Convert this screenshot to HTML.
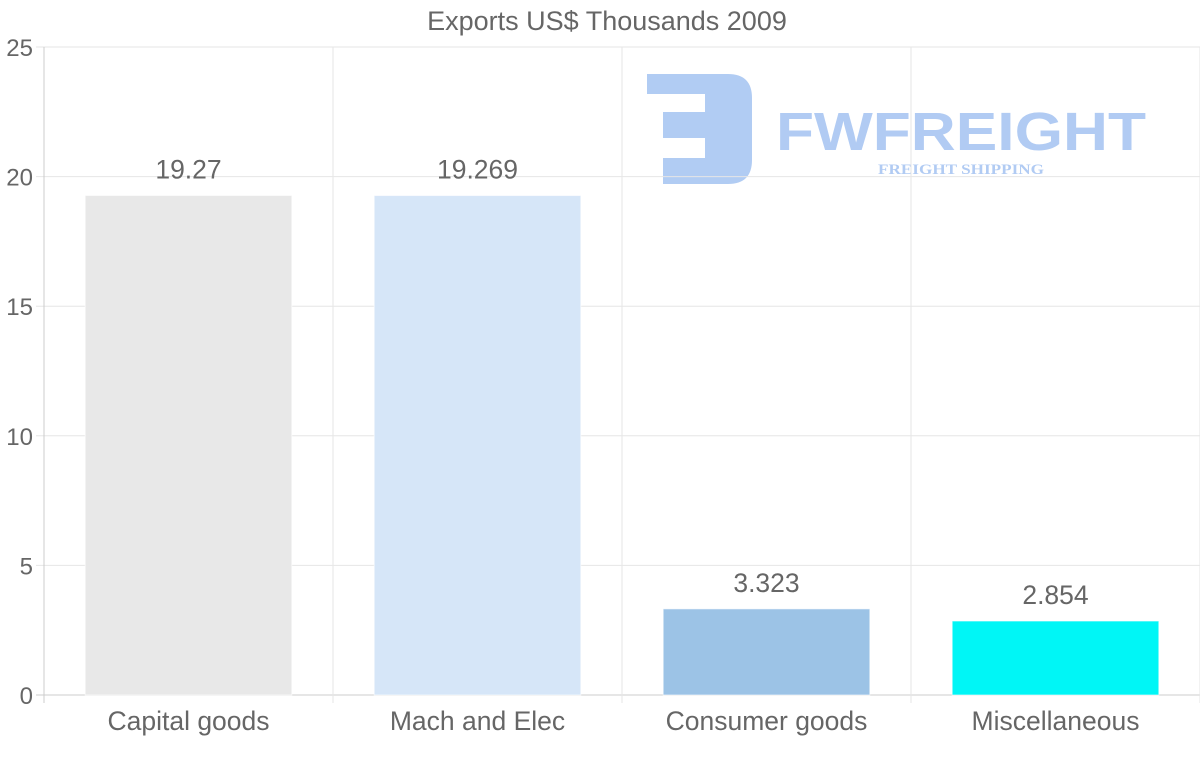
<!DOCTYPE html>
<html><head><meta charset="utf-8"><style>
html,body{margin:0;padding:0;background:#fff;width:1200px;height:763px;overflow:hidden}
svg{display:block;font-family:"Liberation Sans",Arial,sans-serif}
</style></head><body>
<svg id="chart" width="1200" height="763" viewBox="0 0 1200 763">
<text x="607" y="30" text-anchor="middle" font-size="27" fill="#666">Exports US$ Thousands 2009</text>
<g opacity="0.9">
<path d="M647 74 H728 Q752 74 752 98 V160 Q752 184 728 184 H663 V158 H705 V138 H663 V112 H705 V94 H647 Z" fill="#a9c6f2"/>
<text x="776" y="150" font-size="54" font-weight="bold" fill="#a9c6f2" textLength="370" lengthAdjust="spacingAndGlyphs">FWFREIGHT</text>
<text x="878" y="174" font-size="15" font-weight="bold" font-family="Liberation Serif,serif" fill="#a9c6f2" textLength="166" lengthAdjust="spacingAndGlyphs">FREIGHT SHIPPING</text>
</g>
<g id="grid"></g><g id="bars"></g><g id="labels"></g>
</svg>
<script>
const categories=["Capital goods","Mach and Elec","Consumer goods","Miscellaneous"];
const values=[19.27,19.269,3.323,2.854];
const valueLabels=["19.27","19.269","3.323","2.854"];
const colors=["#e8e8e8","#d6e6f8","#9cc3e6","#00f6f6"];
const yTicks=[0,5,10,15,20,25];
const NS="http://www.w3.org/2000/svg";
const L=44,R=1200,T=47,B=695,yMax=25;
const y=v=>B-(v/yMax)*(B-T);
const bw=(R-L)/categories.length;
const xc=i=>L+bw*(i+0.5);
function mk(tag,attrs,parent){const e=document.createElementNS(NS,tag);for(const k in attrs)e.setAttribute(k,attrs[k]);parent.appendChild(e);return e;}
const grid=document.getElementById('grid'),bars=document.getElementById('bars'),labels=document.getElementById('labels');
yTicks.forEach(t=>{
 const ln=mk('line',{x1:36,x2:R,y1:y(t),y2:y(t),stroke:t===0?'#ccc':'#e6e6e6','stroke-width':1},grid);
 
 
 const tx=mk('text',{x:33,y:y(t)+9,'text-anchor':'end','font-size':24,fill:'#666'},grid);
 tx.textContent=t;
 
 
});
for(let i=0;i<=categories.length;i++){
 const x=L+bw*i;
 const ln=mk('line',{x1:x,x2:x,y1:T,y2:703,stroke:i===0?'#ccc':'#e6e6e6','stroke-width':1},grid);
 
 
}
categories.forEach((c,i)=>{
 const w=bw*0.715;
 const r=mk('rect',{x:xc(i)-w/2,y:y(values[i]),width:w,height:B-y(values[i]),fill:colors[i],stroke:'rgba(255,255,255,0.6)','stroke-width':1},bars);
 
 
 const v=mk('text',{x:xc(i),y:y(values[i])-17,'text-anchor':'middle','font-size':26.5,fill:'#666'},labels);
 v.textContent=valueLabels[i];
 
 
 const cl=mk('text',{x:xc(i),y:730,'text-anchor':'middle','font-size':26.5,fill:'#666'},labels);
 cl.textContent=c;
 
 
});
</script>
</body></html>
